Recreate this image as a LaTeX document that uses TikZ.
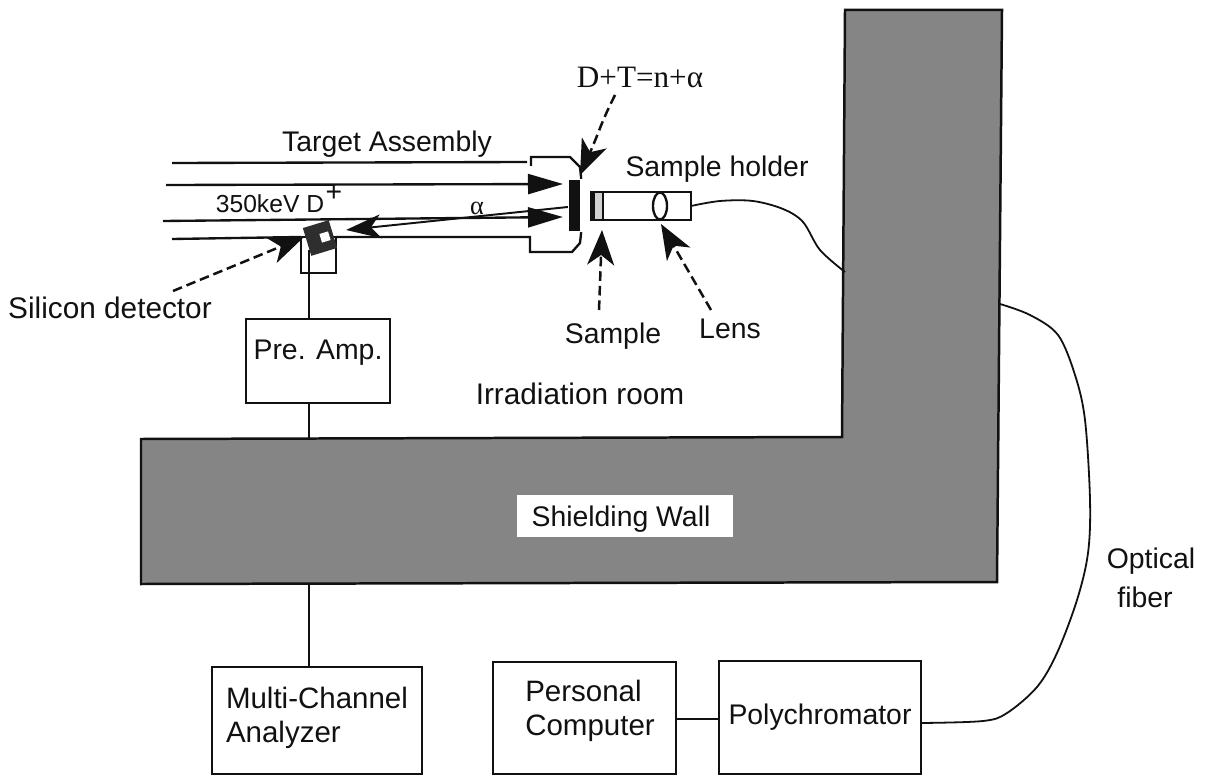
\documentclass[tikz,border=0pt]{standalone}
\usepackage{fontspec}
\setsansfont{Liberation Sans}
\newfontfamily\serifgreek{Liberation Serif}
\usetikzlibrary{arrows.meta,shapes.geometric,calc}
\definecolor{shieldgray}{HTML}{858585}
\definecolor{inkblack}{HTML}{111111}

\begin{document}
\begin{tikzpicture}[
  x=0.01in,
  y=-0.01in,
  font=\sffamily\fontsize{20.5pt}{24.5pt}\selectfont,
  line width=1.7pt,
  draw=inkblack,
  text=inkblack,
  instrbox/.style={
    draw=inkblack,
    fill=white,
    line width=1.7pt,
    inner sep=0pt,
    outer sep=0pt,
    align=left,
    font=\sffamily\fontsize{21.3pt}{24.5pt}\selectfont
  },
  caption/.style={
    anchor=base,
    inner sep=0pt,
    align=center
  },
  beamarrow/.style={
    -{Stealth[length=0.35in,width=0.20in,inset=0pt]},
    line width=1.7pt
  },
  pointer/.style={
    dash pattern=on 7pt off 3.5pt,
    -{Stealth[length=0.35in,width=0.27in,inset=0.1in]},
    line width=1.8pt
  },
  fiber/.style={
    line width=1.3pt,
    smooth,
    tension=0.55
  }
]
  \useasboundingbox (0,0) rectangle (1214,776);

  % ----------------------------------------------------
  % SHIELDING WALL
  % ----------------------------------------------------
  \draw[fill=shieldgray, line width=1.8pt] (141,439) -- (842,437) -- (845,10) -- (1002,10)
    -- (997,582) -- (141,584) -- cycle;
  \node[fill=white, inner sep=0pt, minimum width=2.15in, minimum height=0.42in] (wallbadge) at (625,516) {};
  \node[caption] (walltext) at (621,526) {Shielding Wall};
  \coordinate (wallpre) at (309,439);
  \coordinate (wallmca) at (309,584);
  \coordinate (wallin) at (845,272);
  \coordinate (wallout) at (1000,304);

  % ----------------------------------------------------
  % TARGET ASSEMBLY
  % ----------------------------------------------------
  \node[fill=inkblack, inner sep=0pt, minimum width=0.11in, minimum height=0.51in] (plate) at (574.5,205.5) {};
  \node[draw=inkblack, fill=white, inner sep=0pt, outer sep=0pt, minimum width=0.35in, minimum height=0.36in] (detbox) at (318.5,255) {};

  \coordinate (beamatop) at (172,163);
  \coordinate (beamaend) at (527,162);
  \coordinate (beamb) at (166,185);
  \coordinate (beamc) at (163,221);
  \coordinate (beamd) at (172,239);
  \coordinate (tipb) at (563,184);
  \coordinate (tipc) at (563,217);

  \draw (beamatop) -- (beamaend);
  \draw[beamarrow] (beamb) -- (tipb);
  \draw[beamarrow] (beamc) -- (tipc);
  \draw (beamd) -- (detbox.north west);
  \draw (531,166) -- (531,157) -- (570,157) -- (580,167) -- (plate.north east);
  \draw (detbox.north east) -- (530,237) -- (530,252) -- (572,252) -- (580,243) -- (plate.south east);

  % alpha particle towards the detector
  \coordinate (alphatip) at (346,230);
  \draw[line width=1.4pt, -{Stealth[length=0.35in,width=0.24in,inset=0.1in]}] (plate.west |- 0,207) -- (alphatip);

  % ----------------------------------------------------
  % SILICON DETECTOR
  % ----------------------------------------------------
  \node[fill=black!82, inner sep=0pt, rotate=17, minimum width=0.27in, minimum height=0.29in] (detector) at (320,238) {};
  \node[fill=white, inner sep=0pt, rotate=17, minimum width=0.09in, minimum height=0.09in] (detcell) at (325,237) {};

  % ----------------------------------------------------
  % SAMPLE HOLDER
  % ----------------------------------------------------
  \node[draw=inkblack, fill=white, inner sep=0pt, outer sep=0pt, minimum width=1.00in, minimum height=0.28in] (holder) at (641,206) {};
  \node[fill=black!18, draw=inkblack, line width=0.8pt, inner sep=0pt, minimum width=0.09in, minimum height=0.28in] (sample) at (598.5,206) {};
  \draw[line width=3.6pt] (holder.north west) ++(2,0) -- ($(holder.south west)+(2,0)$);
  \node[draw=inkblack, ellipse, inner sep=0pt, minimum width=0.14in, minimum height=0.27in] (lens) at (660,206) {};

  % ----------------------------------------------------
  % ELECTRONICS
  % ----------------------------------------------------
  \node[instrbox, font=\sffamily\fontsize{20.5pt}{24.5pt}\selectfont, minimum width=1.44in, minimum height=0.84in] (preamp) at (318,361) {Pre. Amp.\rule[-16pt]{0pt}{0pt}};
  \node[instrbox, minimum width=2.10in, minimum height=1.07in] (mca) at (317,720.5) {Multi-Channel\\Analyzer\rule[-8pt]{0pt}{0pt}};
  \node[instrbox, minimum width=1.83in, minimum height=1.12in] (computer) at (584.5,718) {\hspace*{8pt}Personal\\\hspace*{8pt}Computer\rule[-14.5pt]{0pt}{0pt}};
  \node[instrbox, font=\sffamily\fontsize{20.5pt}{24.5pt}\selectfont, minimum width=2.02in, minimum height=1.13in] (polychromator) at (820,717.5) {Polychromator};

  \coordinate (detfoot) at (309,250);
  \draw (detfoot) -- (detfoot |- preamp.north);
  \draw (detfoot |- preamp.south) -- (wallpre);
  \draw (wallmca) -- (wallmca |- mca.north);
  \draw (computer.east |- 0,719) -- (polychromator.west |- 0,719);

  % ----------------------------------------------------
  % OPTICAL FIBER
  % ----------------------------------------------------
  \draw[fiber] plot coordinates {(holder.east) (720,201) (753,201) (783,209) (803,222) (820,250) (wallin)};
  \draw[fiber] plot coordinates {(wallout) (1030,315) (1058,335) (1075,375) (1085,420) (1090,500) (1088,553) (1077,600) (1057,653) (1037,687) (1007,713) (983,721) (polychromator.east |- 0,723)};

  % ----------------------------------------------------
  % LABELS AND POINTERS
  % ----------------------------------------------------
  \node[caption] (targetlabel) at (387,152) {Target Assembly};
  \node[caption, font=\sffamily\fontsize{17.8pt}{20pt}\selectfont] (beamlabel) at (270,213) {350keV D};
  \node[caption] (beamplus) at (334,202) {+};
  \node[caption, font=\serifgreek\fontsize{19pt}{20pt}\selectfont] (alphalabel) at (477,215) {α};
  \node[caption] (holderlabel) at (717,177) {Sample holder};
  \node[caption, font=\serifgreek\fontsize{22.5pt}{26pt}\selectfont] (reaction) at (640,88) {D+T=n+α};
  \node[caption] (samplelabel) at (613,343) {Sample};
  \node[caption] (lenslabel) at (730,338) {Lens};
  \node[caption, font=\sffamily\fontsize{21.5pt}{24.5pt}\selectfont] (detlabel) at (110,318) {Silicon detector};
  \node[caption, font=\sffamily\fontsize{21.5pt}{24.5pt}\selectfont] (roomlabel) at (580,404) {Irradiation room};
  \node[caption] (opticallabel) at (1151,568) {Optical};
  \node[caption] (fiberlabel) at (1145,607) {fiber};

  \coordinate (detstart) at (173,291);
  \coordinate (dettip) at (304,237);
  \draw[pointer] (detstart) -- (dettip);

  \coordinate (reactstart) at (615,95);
  \coordinate (reacttip) at (580,175);
  \draw[pointer] (reactstart) .. controls (600,125) and (600,130) .. (reacttip);

  \coordinate (samplestart) at (599,310);
  \coordinate (sampletip) at (602,230);
  \draw[pointer] (samplestart) -- (sampletip);

  \coordinate (lensstart) at (711,310);
  \coordinate (lenstip) at (661,224);
  \draw[pointer] (lensstart) -- (lenstip);

\end{tikzpicture}
\end{document}
